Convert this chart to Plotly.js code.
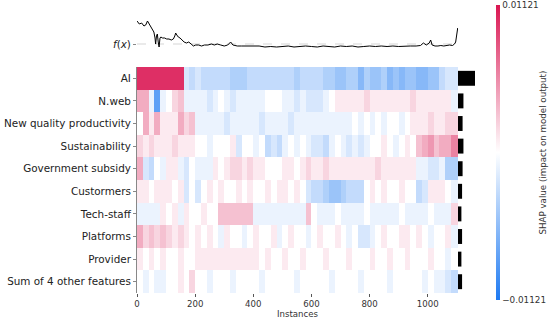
<!DOCTYPE html>
<html><head><meta charset="utf-8">
<script src="https://cdn.plot.ly/plotly-3.0.1.min.js"></script>
<style>html,body{margin:0;padding:0;background:#fff}#chart{width:550px;height:323px}</style>
</head><body><div id="chart"></div>
<script>
// Feature names (top to bottom)
const features = ["AI", "N.web", "New quality productivity", "Sustainability", "Government subsidy",
  "Custormers", "Tech-staff", "Platforms", "Provider", "Sum of 4 other features"];

// Instances are grouped in bins of 20 (last bin runs to the final instance)
const binSize = 20;
const nInstances = 1104;

// SHAP values per bin, in units of 0.001
const shapAI = [10,10,10,10,10,10,10,10,-2,-3,-2,-3,-3,-3,-3,-3,-4,-4,-4,-3,-3,-3,-3,-3,-3,-3,-3,-4,-3,-3,-3,-3,-4,-4,-5,-5,-4,-4,-6,-4,-5,-5,-4,-6,-5,-6,-5,-5,-6,-6,-5,-5,-3,-2,-2];
const shapNweb = [4,4,-1,-8,-1,0,2,3,-1,-1,-1,-1,-2,-1,0,-1,-2,-1,-1,-1,-1,-1,0,0,0,-1,-1,-2,-1,-2,-2,-2,-1,0,1,1,1,1,1,2,1,1,1,1,1,1,1,2,1,1,1,1,1,1,-1];
const shapNQP = [0,4,1,4,1,1,1,4,2,3,-1,-1,-1,-1,-1,-2,-1,-1,-1,-1,-1,-2,-1,-1,-1,-1,-2,-1,-1,-1,-1,-1,-1,-1,-1,-1,-1,0,-1,0,-1,0,-1,0,0,-1,0,1,1,1,2,1,1,2,2];
const shapSustain = [2,1,2,1,1,1,2,1,1,1,0,0,-1,0,0,0,1,-2,0,0,-1,0,-3,-2,-3,-1,0,-1,0,-1,-2,-2,-3,-1,0,-1,-2,-1,-2,-1,0,0,1,0,-1,0,1,0,3,4,5,3,4,4,6];
const shapGov = [4,-2,-3,0,-1,1,1,-1,-2,0,-1,-1,-1,1,0,1,2,2,1,2,1,1,0,0,0,1,1,0,1,2,1,1,2,1,1,1,1,1,1,1,1,2,1,1,1,1,1,1,-1,-1,-2,-2,-1,-4,-4];
const shapCustomers = [1,1,0,1,1,1,0,1,-2,0,-2,0,1,0,1,0,0,1,0,1,0,0,1,0,1,1,0,1,0,-2,-3,-3,-4,-5,-5,-4,-3,-3,-3,0,1,0,1,0,0,1,0,0,-3,-2,1,1,1,0,-1];
const shapTech = [-1,-1,-1,-1,1,0,1,-1,1,0,0,1,0,0,3,3,3,3,3,3,-1,-1,-1,-1,-1,-1,-1,-1,-1,3,0,-1,-1,-1,0,-1,-1,-1,-1,0,-1,-1,-1,-1,-1,0,-1,-1,-1,-1,0,-1,-1,-1,2];
const shapPlatforms = [4,2,3,2,3,2,1,2,1,0,1,0,1,0,-1,1,0,0,-1,0,1,0,0,1,-1,0,1,0,0,-1,0,1,0,0,1,0,-1,0,-2,-2,-1,0,1,0,0,1,1,0,1,0,-1,0,0,1,-1];
const shapProvider = [1,0,1,0,1,0,0,1,0,0,1,1,1,1,1,1,1,1,1,1,1,0,1,0,0,1,0,0,1,0,0,0,1,0,0,0,1,0,0,0,1,0,0,1,0,0,1,0,0,0,1,0,0,-1,0];
const shapOther = [0,-1,0,-1,-1,0,0,1,0,2,0,0,-1,0,0,0,-1,0,0,0,0,-1,0,0,0,0,0,-1,0,0,0,0,0,-1,0,0,0,0,-1,0,0,0,0,-1,0,0,0,0,0,-1,0,-1,-1,-2,-3];

// Mean |SHAP| per feature (units of 0.001)
const meanAbsShap = [5.0, 1.6, 1.35, 1.6, 1.35, 1.2, 1.0, 1.2, 1.0, 1.2];

// Model output f(x) along the instances (relative units)
const fxInstance = [0,8,16,24,30,36,42,48,54,58,62,64,67,70,73,76,79,82,88,95,102,110,118,125,130,133,137,142,148,155,162,170,178,186,194,202,212,222,232,244,256,266,276,288,300,312,322,330,345,360,380,400,420,440,460,480,500,520,540,560,580,600,620,640,660,680,700,720,740,760,780,800,820,840,860,880,900,920,940,960,975,985,995,1005,1010,1015,1025,1035,1045,1055,1065,1075,1085,1092,1096,1100,1103];
const fxValue = [26,23,24,21,22,26,23,20,18,15,9,3,11,13,5,0,9,10,9,9,8,8,7,8,11,14,12,10,9,7,5,4,5,3,1,2,2,1,2,2,3,2,3,2,1,2,5,2,1,1,1,0.5,1,0,0.5,0,0.5,1,0,0.5,1,0.5,0,1,0.5,0,1,0.5,1,0,0.5,1,0.5,1,0.5,1,0.5,1,1,1,1.5,4,2,4,7,2,1,1,1.5,1,1.5,2,1.5,3,5,17,19];
const fxBase = 3;

const colorLimit = 11.21; // 0.01121 in units of 0.001

const zRows = [shapAI, shapNweb, shapNQP, shapSustain, shapGov, shapCustomers, shapTech, shapPlatforms, shapProvider, shapOther];
const rowIdx = features.map((_, i) => i);
const nBins = shapAI.length;
const binEdges = [];
for (let k = 0; k < nBins; k++) binEdges.push(k * binSize);
binEdges.push(nInstances);

const shapScale = [[0, 'rgb(30,122,242)'], [0.5, 'rgb(255,255,255)'], [1, 'rgb(218,22,82)']];

const heat = {
  type: 'heatmap', x: binEdges, y: rowIdx, z: zRows,
  xaxis: 'x', yaxis: 'y',
  zmin: -colorLimit, zmax: colorLimit, colorscale: shapScale, zsmooth: false,
  hoverinfo: 'skip',
  colorbar: {
    x: 1.048, xanchor: 'left', y: 0.488, yanchor: 'middle',
    lenmode: 'pixels', len: 295, thickness: 4, outlinewidth: 0, xpad: 0, ypad: 0,
    tickvals: [-colorLimit, colorLimit], ticktext: ['\u22120.01121', '0.01121'],
    tickfont: {family: 'DejaVu Sans', size: 8.8, color: '#333'},
    ticks: ''
  }
};

const bars = {
  type: 'bar', orientation: 'h', x: meanAbsShap, y: rowIdx,
  xaxis: 'x3', yaxis: 'y', marker: {color: '#000'}, width: 0.66, hoverinfo: 'skip'
};

const fxLine = {
  type: 'scatter', mode: 'lines', x: fxInstance, y: fxValue,
  xaxis: 'x', yaxis: 'y2', line: {color: '#000', width: 1}, hoverinfo: 'skip'
};

const baseLine = {
  type: 'scatter', mode: 'lines', x: [0, nInstances], y: [fxBase, fxBase],
  xaxis: 'x', yaxis: 'y2', line: {color: '#bbbbbb', width: 0.6, dash: 'dash'}, hoverinfo: 'skip'
};

const mainFrac = 321 / 343;
const layout = {
  width: 550, height: 323,
  margin: {l: 137, r: 70, t: 5, b: 30},
  paper_bgcolor: '#fff', plot_bgcolor: 'rgba(0,0,0,0)',
  showlegend: false,
  font: {family: 'DejaVu Sans', color: '#333'},
  xaxis: {
    domain: [0, mainFrac], range: [0, nInstances], anchor: 'y',
    tickvals: [0, 200, 400, 600, 800, 1000], ticks: 'outside', ticklen: 3, tickcolor: '#555',
    tickfont: {size: 8.6, color: '#333'}, showgrid: false, zeroline: false, showline: false,
    title: {text: 'Instances', font: {size: 8.6, color: '#333'}, standoff: 2}
  },
  xaxis3: {
    domain: [mainFrac, 1], range: [0, 6.47], anchor: 'y',
    showticklabels: false, ticks: '', showgrid: false, zeroline: false, showline: false
  },
  yaxis: {
    domain: [0, 226 / 288], range: [9.5, -0.5], anchor: 'x',
    tickvals: rowIdx, ticktext: features, ticks: 'outside', ticklen: 3, tickcolor: '#888',
    tickfont: {size: 10.4, color: '#222'}, showgrid: false, zeroline: false,
    showline: true, linecolor: '#888', linewidth: 1
  },
  yaxis2: {
    domain: [243 / 288, 275 / 288], range: [-3, 29], anchor: 'x',
    tickvals: [fxBase], ticktext: ['<i>f</i>(<i>x</i>)'], ticks: 'outside', ticklen: 3, tickcolor: '#888',
    tickfont: {size: 10.4, color: '#222'}, showgrid: false, zeroline: false, showline: false
  },
  annotations: [{
    text: 'SHAP value (impact on model output)', xref: 'paper', yref: 'paper',
    x: 1.184, y: 0.488, xanchor: 'center', yanchor: 'middle', textangle: -90,
    showarrow: false, font: {family: 'DejaVu Sans', size: 8.7, color: '#333'}
  }]
};

Plotly.newPlot('chart', [heat, bars, baseLine, fxLine], layout, {staticPlot: true, displayModeBar: false});
</script>
</body></html>
